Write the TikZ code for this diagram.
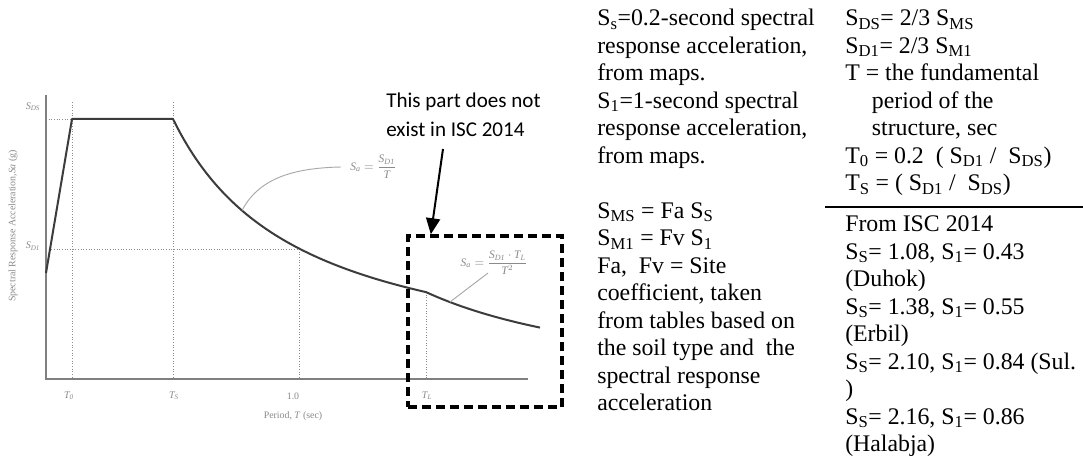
\documentclass[tikz,border=0pt]{standalone}
\usepackage{fontspec}
\usepackage{amsmath}
\setmainfont{Liberation Serif}
\newfontfamily\calibrifont{Carlito}
\usetikzlibrary{arrows.meta,calc}

\definecolor{curvegray}{HTML}{3C3C3C}
\definecolor{axisgray}{HTML}{808080}
\definecolor{dotgray}{HTML}{8C8C8C}
\definecolor{labelgray}{HTML}{8A8A8A}
\definecolor{leadgray}{HTML}{A8A8A8}

\newcommand\lowsub[1]{\textsubscript{#1}}

\begin{document}
\begin{tikzpicture}[x=0.75pt,y=-0.75pt,
  spectrum/.style={draw=curvegray,line width=1.5pt,line join=round},
  axisline/.style={draw=axisgray,line width=1.1pt},
  guide/.style={draw=dotgray,line width=0.6pt,dash pattern=on 0.75pt off 1.25pt},
  leader/.style={draw=leadgray,line width=0.7pt},
  graphlabel/.style={inner sep=0pt,text=labelgray,font=\fontsize{7.6}{9}\selectfont\itshape},
  axislabel/.style={inner sep=0pt,text=labelgray,font=\fontsize{7.4}{9}\selectfont},
  formula/.style={inner sep=0pt,text=labelgray,font=\fontsize{8.6}{10}\selectfont\itshape},
  notes/.style={inner sep=0pt,anchor=base west,font=\fontsize{17.85}{20.6}\selectfont},
  remark/.style={inner sep=0pt,anchor=base west,font=\calibrifont\fontsize{15.8}{21.75}\selectfont},
  dashbox/.style={draw=black,line width=2.6pt,dash pattern=on 7pt off 3.5pt,inner sep=0pt},
  pointer/.style={draw=black,line width=1.5pt,-{Triangle[width=10.5pt,length=12pt]}}
]
\path[fill=white] (0,0) rectangle (1083,456);
\useasboundingbox (0,0) rectangle (1083,456);

% guide lines
\draw[guide] (72,102) -- (72,379);
\draw[guide] (173,102) -- (173,379);
\draw[guide] (46,119) -- (72,119);
\draw[guide] (46,249) -- (299,249);
\draw[guide] (299,249) -- (299,379);
\draw[guide] (426,292) -- (426,379);

% axes
\draw[axisline] (46,95) -- (46,379) -- (528,379);

% design response spectrum
\draw[spectrum] (46,273) -- (72,119) -- (173,119)
  -- plot[domain=173:426,samples=70] (\x,{379-260*(127/(\x-46))})
  -- plot[domain=426:540,samples=30] (\x,{379-86.9*(380/(\x-46))^2});

% axis labels and tick labels
\node[graphlabel] (sds) at (33,107) {S\lowsub{DS}};
\node[graphlabel] (sd1) at (33,246) {S\lowsub{D1}};
\node[graphlabel] (t0) at (69,396) {T\lowsub{0}};
\node[graphlabel] (ts) at (174,396) {T\lowsub{S}};
\node[axislabel] (one) at (293,396) {1.0};
\node[graphlabel] (tl) at (427,396) {T\lowsub{L}};
\node[axislabel] (xlab) at (293,416) {Period, \textit{T} (sec)};
\node[axislabel,rotate=90] (ylab) at (13,226) {Spectral Response Acceleration,\textit{Sa} (g)};

% branch formulas with leaders
\node[formula,anchor=west] (f1) at (350,167)
  {$\textit{S}_{\textit{a}} = \dfrac{\textit{S}_{\textit{D1}}}{\textit{T}}$};
\coordinate (c1) at (242,210.5);
\draw[leader] (c1) .. controls (258,180) and (290,168) .. ($(f1.west)+(-9,0)$);

\node[formula] (f2) at (494,263)
  {$\textit{S}_{\textit{a}} = \dfrac{\textit{S}_{\textit{D1}}\cdot\textit{T}_{\textit{L}}}{\textit{T}^{2}}$};
\coordinate (c2) at (450,302);
\draw[leader] (c2) -- ($(f2.south)+(-6,-2)$);

% long-period region
\node[dashbox,minimum width=115.5pt,minimum height=128.25pt] (box) at (485,321.5) {};

\node[remark] (note) at (386,108)
  {\begin{tabular}[t]{@{}l@{}}This part does not\\exist in ISC 2014\end{tabular}};
\coordinate (tail) at (443,149);
\draw[pointer] (tail) -- ($(box.north west)!0.156!(box.north east)$);

% definitions
\node[notes] (defs) at (597,26) {\begin{tabular}[t]{@{}l@{}}
S\lowsub{s}=0.2-second spectral\\
response acceleration,\\
from maps.\\
S\lowsub{1}=1-second spectral\\
response acceleration,\\
from maps.\\
\\
S\lowsub{MS} = Fa S\lowsub{S}\\
S\lowsub{M1} = Fv S\lowsub{1}\\
Fa,\ \ Fv = Site\\
coefficient, taken\\
from tables based on\\
the soil type and\ \ the\\
spectral response\\
acceleration
\end{tabular}};

\node[notes] (design) at (845,26) {\begin{tabular}[t]{@{}l@{}}
S\lowsub{DS}= 2/3 S\lowsub{MS}\\
S\lowsub{D1}= 2/3 S\lowsub{M1}\\
T = the fundamental\\
\hspace*{20pt}period of the\\
\hspace*{20pt}structure, sec\\
T\lowsub{0} = 0.2\ \ ( S\lowsub{D1} /\ \ S\lowsub{DS})\\
T\lowsub{S} = ( S\lowsub{D1} /\ \ S\lowsub{DS})
\end{tabular}};

\draw[line width=1.3pt] (825,207) -- (1083,207);

\node[notes] (isc) at (845,232) {\begin{tabular}[t]{@{}l@{}}
From ISC 2014\\
S\lowsub{S}= 1.08, S\lowsub{1}= 0.43\\
(Duhok)\\
S\lowsub{S}= 1.38, S\lowsub{1}= 0.55\\
(Erbil)\\
S\lowsub{S}= 2.10, S\lowsub{1}= 0.84 (Sul.\\
)\\
S\lowsub{S}= 2.16, S\lowsub{1}= 0.86\\
(Halabja)
\end{tabular}};
\end{tikzpicture}
\end{document}
